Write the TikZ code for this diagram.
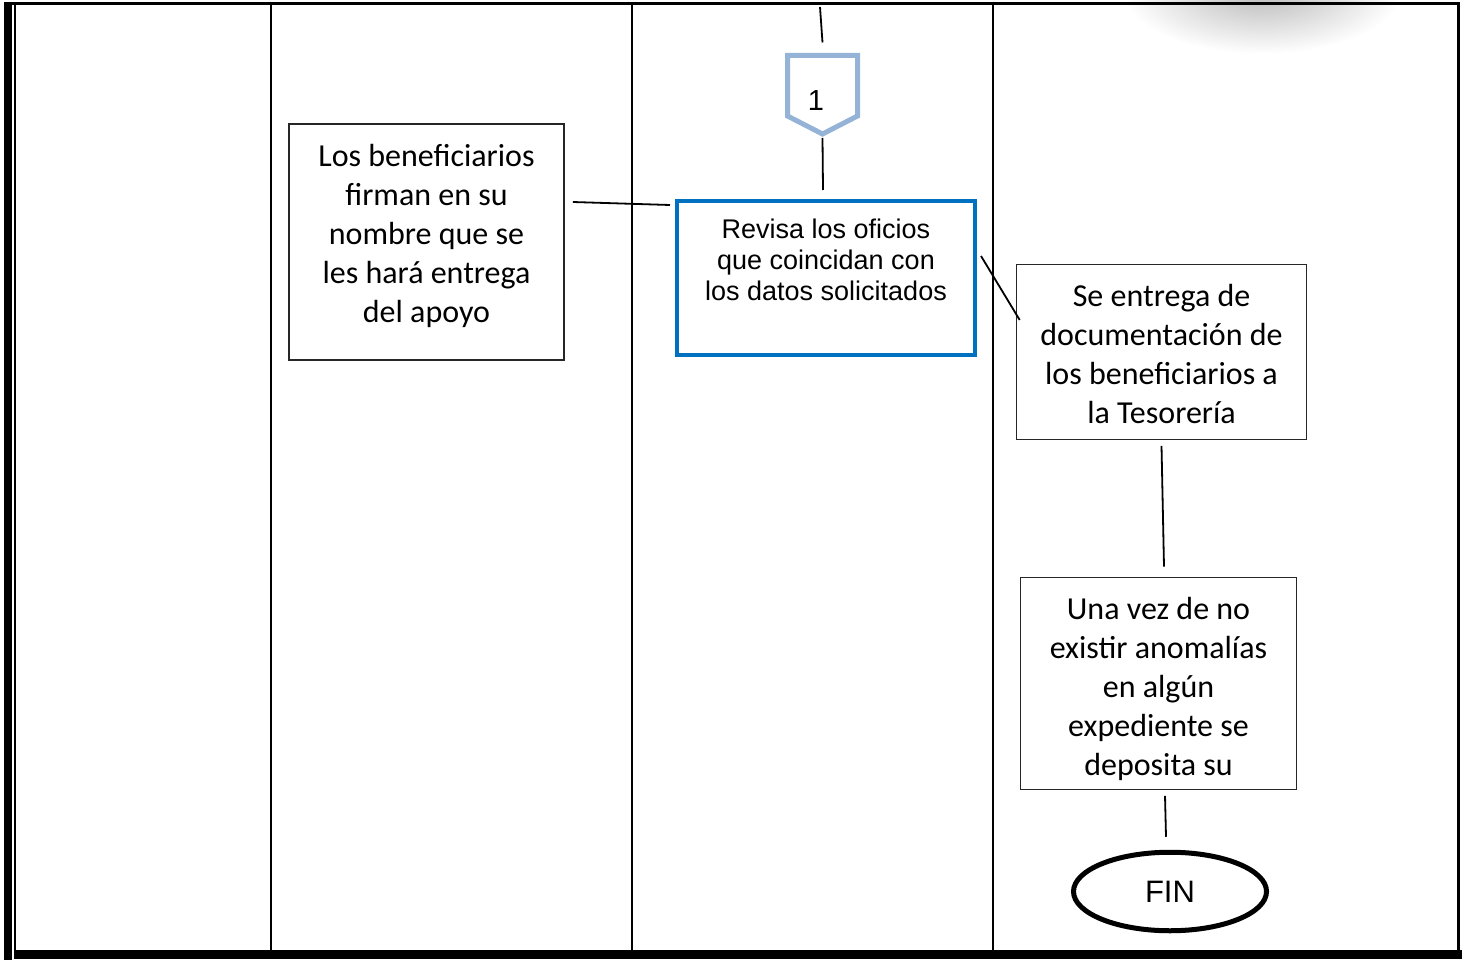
\documentclass[tikz,border=0pt]{standalone}
\usepackage{fontspec}
\setmainfont{Carlito}
\newfontfamily\arialfont{Liberation Sans}
\usetikzlibrary{shapes.geometric}
\definecolor{azul}{RGB}{0,112,192}
\definecolor{celeste}{RGB}{149,179,215}

\begin{document}
\begin{tikzpicture}[x=1pt,y=-1pt,
	caja/.style={draw=black!85, line width=1.6pt, inner sep=0pt},
	texto/.style={align=center, inner sep=0pt, font=\fontsize{32}{39}\selectfont},
	arial/.style={align=center, inner sep=0pt, font=\arialfont\fontsize{27}{31}\selectfont},
	linea/.style={line width=1.8pt}]
	\useasboundingbox (0,0) rectangle (1466,960);
	\begin{scope}
		\clip (0,0) rectangle (1466,960);
		\shade[inner color=black!28, outer color=white] (1262,-10) ellipse [x radius=140, y radius=64];
	\end{scope}
	\fill (4,3) rectangle (12,960);
	\fill (14,950) rectangle (1462,959);
	\draw[line width=3pt] (4,4) -- (1460,4);
	\draw[line width=2pt] (15,4) -- (15,950);
	\draw[line width=3pt] (1458,4) -- (1458,950);
	\foreach \x in {271,632,993}
		\draw[line width=2pt] (\x,4) -- (\x,950);

	\node[caja, minimum width=275, minimum height=236] (lben) at (426.5,242) {};
	\node[texto] (lben-t) at (426.5,236) {Los beneficiarios\\firman en su\\nombre que se\\les hará entrega\\del apoyo};
	\node[caja, draw=azul, line width=4pt, minimum width=298, minimum height=154] (rev) at (826,278) {};
	\node[arial] (rev-t) at (826,260) {Revisa los oficios\\que coincidan con\\los datos solicitados};
	\node[caja, minimum width=290, minimum height=175] (ent) at (1161.5,352) {};
	\node[texto] (ent-t) at (1161.5,354) {Se entrega de\\documentación de\\los beneficiarios a\\la Tesorería};
	\node[caja, minimum width=276, minimum height=212] (vez) at (1158.5,683.5) {};
	\node[texto] (vez-t) at (1158.5,689) {Una vez de no\\existir anomalías\\en algún\\expediente se\\deposita su};
	\node[ellipse, draw, line width=5pt, minimum width=193, minimum height=78.5, inner sep=0pt, font=\arialfont\fontsize{31}{31}\selectfont] (fin) at (1170,891.5) {\raisebox{-3pt}{FIN}};

	\draw[celeste, line width=5pt, line join=miter] (787.5,55.5) -- (857.5,55.5) -- (857.5,116) -- (822.5,134) -- (787.5,116) -- cycle;
	\node[font=\arialfont\fontsize{29}{29}\selectfont, inner sep=0pt] (con) at (816,101) {1};
	\coordinate (con-n) at (822.5,55.5);
	\coordinate (con-s) at (822.5,134);
	\coordinate (arriba) at (820,7);

	\draw[linea] (arriba) -- ([yshift=13pt]con-n);
	\draw[linea] ([yshift=-4pt]con-s) -- ([xshift=-3pt,yshift=9pt]rev.north);
	\draw[linea] ([xshift=8pt,yshift=40pt]lben.east) -- ([xshift=-5pt,yshift=-6pt]rev.north west);
	\draw[linea] ([xshift=4pt,yshift=-57pt]rev.north east) -- ([xshift=4pt,yshift=32pt]ent.west);
	\draw[linea] ([yshift=-5.5pt]ent.south) -- ([xshift=5.5pt,yshift=10pt]vez.north);
	\draw[linea] ([xshift=6.5pt,yshift=-5.5pt]vez.south) -- ([xshift=-4pt,yshift=13pt]fin.north);
\end{tikzpicture}
\end{document}
